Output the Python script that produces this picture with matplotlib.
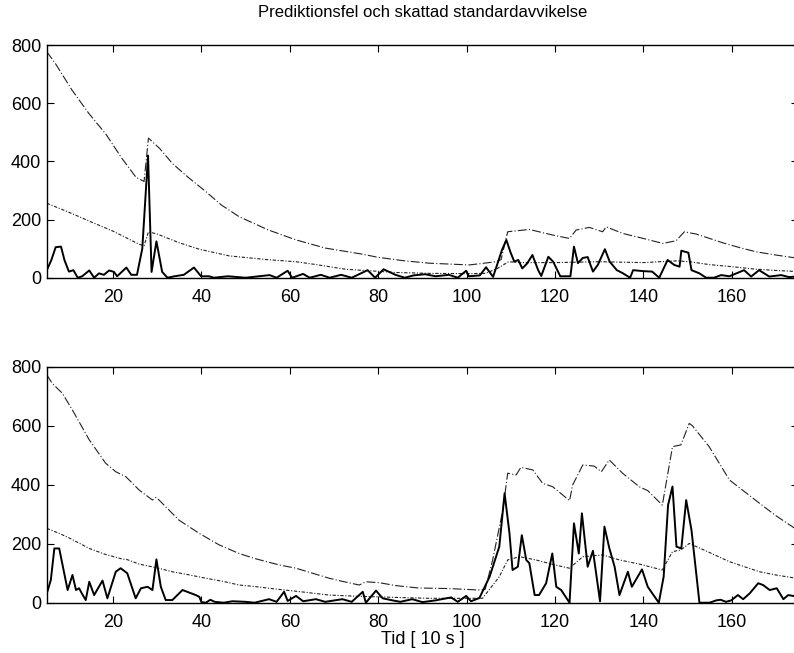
import matplotlib
matplotlib.use("Agg")
from matplotlib import pyplot as plt

# top panel
t_hi_x = [5, 7, 10.7, 14.5, 18.4, 22, 25.2, 27, 28, 30.5, 33.4, 37, 41, 44.5, 48.5, 55,
          61.4, 68, 76.4, 80, 82.5, 86, 91.5, 96, 100.6, 104, 106.7, 107.8, 109.3, 114.2,
          117.2, 120, 123.3, 124.8, 127.8, 130.8, 131.6, 135.4, 140, 144.4, 147.4, 149.3,
          152, 155, 158, 162.4, 165.6, 170, 175]
t_hi_y = [777, 735, 645, 565, 493, 410, 345, 331, 480, 445, 393, 345, 296, 250, 210, 165,
          130, 102, 81, 70, 65, 58, 50, 47, 44, 50, 55, 62, 158, 166,
          155, 145, 135, 164, 173, 158, 175, 152, 135, 118, 127, 158,
          150, 135, 120, 101, 89, 78, 67]

t_lo_x = [5, 10, 15, 20, 25.9, 27, 28, 30, 35, 39.5, 46.3, 55, 61.4, 66, 72.7, 78, 84,
          91.6, 100, 104.3, 107, 109.5, 112, 120, 130, 140, 147.5, 150.5, 155, 160, 165,
          170, 175]
t_lo_y = [256, 225, 192, 160, 115, 110, 158, 150, 120, 98, 75, 62, 55, 45, 29, 24, 18,
          15, 14, 15, 32, 55, 52, 52, 55, 52, 58, 55, 45, 38, 30,
          25, 21]

t_err_x = [5, 6, 7, 8.2, 9, 10, 11, 12, 13, 14.6, 15.7, 16.8, 17.9, 19.1, 20.2, 20.9, 23,
           24.1, 25.4, 26.6, 27.9, 28.7, 29.8, 31.1, 32.3, 33.9, 36, 38.3, 39.9, 41.7,
           42.8, 46, 50, 53, 55.4, 57, 59.5, 60.5, 63, 64.5, 67, 69, 71.6, 74, 77.6, 79.3,
           81.2, 83.9, 86, 88, 90.6, 93, 96, 98, 99.9, 100.5, 103, 104.4, 106, 108, 109,
           109.9, 110.8, 111.7, 112.6, 113.7, 114.9, 116.2, 116.9, 118.5, 119.6, 121.2,
           123.5, 124.3, 125.2, 126.3, 127.4, 128.6, 129.7, 131.3, 132.4, 134, 135.3, 137,
           137.7, 139.7, 142, 143.6, 145.5, 147, 148.2, 148.6, 150.2, 150.9, 152.7, 154.2,
           156, 157.6, 159.5, 162.8, 164.4, 166.2, 168.5, 171.2, 173, 175]
t_err_y = [26, 60, 105, 107, 60, 21, 26, 0, 5, 25, 0, 15, 10, 25, 20, 5, 35,
           10, 10, 100, 420, 20, 125, 20, 0, 5, 10, 35, 5, 5,
           0, 5, 0, 5, 9, 0, 24, 0, 13, 0, 10, 0, 10, 0, 26, 0,
           29, 10, 0, 8, 12, 5, 10, 0, 24, 5, 8, 36, 3, 95, 130,
           89, 55, 61, 32, 49, 78, 26, 6, 72, 55, 5,
           5, 107, 50, 68, 71, 21, 44, 98, 55, 26, 16, 0,
           26, 23, 21, 0, 61, 44, 38, 93, 86, 26, 15, 0,
           0, 9, 5, 26, 4, 26, 4, 9, 2, 5]

# bottom panel
b_hi_x = [5, 6.2, 8.5, 10.8, 14.6, 18.3, 20.6, 22.9, 25.9, 28.9, 29.7, 30.4, 34.9, 39.5,
          44, 48.5, 52, 57.6, 61.4, 64, 68.9, 72, 75.7, 77.2, 80.2, 84, 89, 96, 102.9,
          104.2, 105.9, 108.2, 109.3, 111.2, 112.3, 115, 117.2, 119.5, 123.3, 124, 126.3,
          128.9, 130.5, 132.3, 135.3, 139.1, 141, 144.3, 146.6, 148.5, 150.4, 151.1, 154.9,
          159.5, 166.3, 170, 175]
b_hi_y = [772, 744, 710, 653, 552, 473, 444, 427, 382, 348, 357, 348, 280, 235,
          196, 167, 150, 128, 117, 105, 83, 72, 60, 71, 68, 58, 50, 48, 43,
          45, 145, 314, 439, 433, 459, 450, 405, 393, 346, 399, 467,
          463, 444, 484, 439, 393, 380, 331, 529, 535, 608, 600, 529,
          416, 337, 295, 245]

b_lo_x = [5, 7.8, 10, 14.6, 18, 22.1, 23, 25.9, 30, 33.4, 37, 41, 45, 48.5, 52, 57.6, 62,
          68.9, 75, 80, 86, 91.6, 96, 103.6, 107.4, 109.3, 112, 115.7, 120, 123.3, 126.3,
          130.8, 134.6, 139.1, 144.3, 146.6, 148.5, 150.4, 155, 159.5, 166.3, 170, 175]
b_lo_y = [252, 235, 220, 184, 165, 148, 147, 131, 118, 105, 95, 83, 72, 60, 55, 45, 38,
          26, 22, 20, 17, 15, 15, 15, 88, 145, 156, 145, 128, 117, 156,
          162, 145, 131, 111, 173, 179, 201, 170, 139, 105, 94, 82]

b_err_x = [5, 5.9, 6.7, 7.8, 9.7, 10.8, 11.6, 12.3, 12.9, 13.8, 14.6, 15.7, 17.6, 18.7,
           20.6, 21.7, 23.2, 25.1, 26.3, 27.8, 28.9, 29.8, 30.8, 31.9, 33.4, 35.7, 38.7,
           39.5, 40, 41, 42, 43, 45, 47, 50, 52, 55.3, 57, 58.7, 59.5, 61.4, 63, 65.9, 68,
           71.9, 74, 76.5, 77.2, 79.5, 81, 83.2, 85, 87.7, 90, 93, 96.5, 98, 99.9, 101,
           102.9, 105.2, 107.4, 108.6, 109.7, 110.4, 111.6, 112.5, 113.5, 114.2, 115.4,
           116.4, 118, 119.4, 120.3, 121.4, 123.3, 124.3, 125.4, 126.1, 127.4, 128.6,
           130.2, 131.2, 132.3, 133.5, 134.6, 136.5, 137.4, 139.7, 141, 143.5, 144.6,
           145.6, 146.6, 147.5, 148.6, 149.7, 150.9, 152.7, 155, 156.5, 157.5, 158.7,
           159.9, 161.4, 162.6, 164.1, 166, 167.1, 168.6, 170.2, 171.7, 172.8, 175]
b_err_y = [32, 77, 184, 184, 43, 94, 43, 49, 32, 9, 71, 26, 75, 15,
           105, 117, 100, 15, 49, 54, 43, 147, 54, 9, 9, 43, 26,
           20, 2, 0, 10, 3, 0, 5, 3, 0, 12, 3, 37, 6, 23, 5, 12, 3,
           12, 3, 37, 0, 41, 15, 8, 3, 12, 2, 8, 18, 3, 23, 5,
           16, 88, 190, 371, 236, 111, 122, 229, 145, 134, 26,
           26, 66, 167, 54, 43, 0, 269, 167, 303, 122, 176,
           5, 258, 185, 122, 26, 105, 54, 113, 54, 0, 88,
           331, 394, 190, 184, 348, 246, 0, 0, 8, 10, 3,
           8, 26, 12, 32, 66, 60, 43, 49, 12, 26, 20]

plt.rcParams["font.family"] = ["Liberation Sans", "DejaVu Sans"]

fig = plt.figure(figsize=(7.94, 6.53), dpi=100)
ax1 = fig.add_axes([0.059, 0.5747, 0.946, 0.3563])
ax2 = fig.add_axes([0.059, 0.0770, 0.946, 0.3614])

hi_style = (0, (8, 2, 1, 2))
lo_style = (0, (3, 1.5, 1, 1.5))

for ax, hx, hy, lx, ly, ex, ey in [(ax1, t_hi_x, t_hi_y, t_lo_x, t_lo_y, t_err_x, t_err_y),
                                   (ax2, b_hi_x, b_hi_y, b_lo_x, b_lo_y, b_err_x, b_err_y)]:
    ax.plot(hx, hy, color="#222222", lw=0.8, linestyle=hi_style)
    ax.plot(lx, ly, color="#222222", lw=0.8, linestyle=lo_style)
    ax.plot(ex, ey, color="k", lw=1.4)
    ax.set_xlim(5, 175)
    ax.set_ylim(0, 800)
    ax.set_xticks(range(20, 161, 20))
    ax.set_yticks(range(0, 801, 200))
    ax.tick_params(direction="in", top=True, right=True, length=5, labelsize=13)
    ax.tick_params(axis="x", pad=8)
    ax.tick_params(axis="y", pad=4)
    for s in ax.spines.values():
        s.set_linewidth(1.0)

ax1.set_title("Prediktionsfel och skattad standardavvikelse", fontsize=12, pad=20)
ax2.set_xlabel("Tid [ 10 s ]", fontsize=13, labelpad=0)

fig.savefig("out.png", dpi=100)
